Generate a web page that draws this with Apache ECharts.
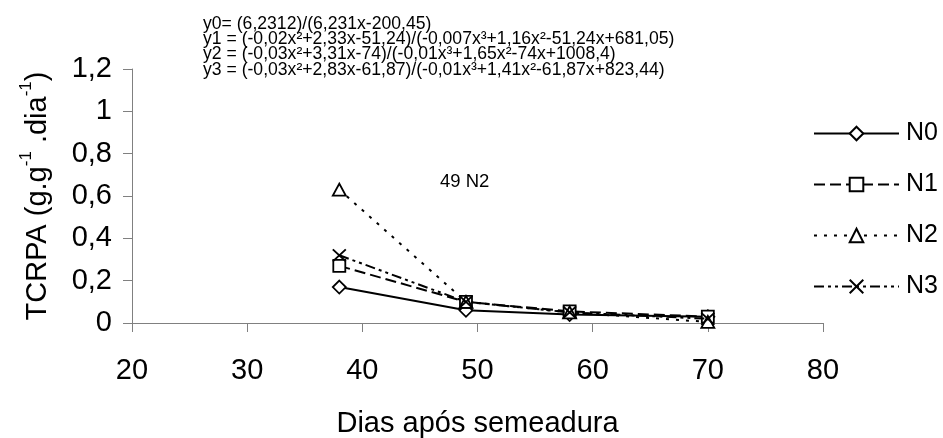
<!DOCTYPE html>
<html>
<head>
<meta charset="utf-8">
<script src="https://cdn.jsdelivr.net/npm/echarts@6/dist/echarts.min.js"></script>
<style>html,body{margin:0;padding:0;background:#fff}#c{width:943px;height:438px}</style>
</head>
<body>
<div id="c"></div>
<script>
// ---- data ----
const days = [38, 49, 58, 70];
const seriesNames = ['N0', 'N1', 'N2', 'N3'];
const N0 = [0.17, 0.06, 0.04, 0.03];
const N1 = [0.27, 0.10, 0.055, 0.03];
const N2 = [0.63, 0.10, 0.05, 0.005];
const N3 = [0.32, 0.10, 0.05, 0.02];
const xTicks = [20, 30, 40, 50, 60, 70, 80];
const yTicks = [0, 0.2, 0.4, 0.6, 0.8, 1, 1.2];
const equations = [
  'y0= (6,2312)/(6,231x-200,45)',
  'y1 = (-0,02x²+2,33x-51,24)/(-0,007x³+1,16x²-51,24x+681,05)',
  'y2 = (-0,03x²+3,31x-74)/(-0,01x³+1,65x²-74x+1008,4)',
  'y3 = (-0,03x²+2,83x-61,87)/(-0,01x³+1,41x²-61,87x+823,44)'
];
const annotation = '49 N2';

const FONT = '"Liberation Sans", Arial, sans-serif';
const values = [N0, N1, N2, N3];
const symbols = ['diamond', 'rect', 'triangle', 'path://M0,0L10,10M10,0L0,10'];
const symSizes = [[13, 13], [12, 12], [13, 12], [13, 12]];
const dashes = ['solid', [11, 5], [3, 7], [10, 4, 3, 4, 3, 4]];

const chart = echarts.init(document.getElementById('c'), null, {renderer: 'canvas'});
const series = seriesNames.map((n, i) => ({
  name: n,
  type: 'line',
  data: days.map((d, j) => [d, values[i][j]]),
  symbol: symbols[i],
  symbolSize: symSizes[i],
  showAllSymbol: true,
  itemStyle: {color: '#fff', borderColor: '#000', borderWidth: 1.8},
  lineStyle: {color: '#000', width: 2, type: dashes[i]},
  emphasis: {disabled: true},
  animation: false,
  z: 3 + i
}));

chart.setOption({
  animation: false,
  backgroundColor: '#fff',
  textStyle: {fontFamily: FONT},
  grid: {left: 132, right: 120, top: 69, bottom: 115, containLabel: false, outerBoundsMode: 'none'},
  xAxis: {
    type: 'value', min: 20, max: 80, interval: 10,
    axisLine: {show: true, onZero: false, lineStyle: {color: '#808080', width: 1}},
    axisTick: {show: true, length: 9, lineStyle: {color: '#808080'}},
    splitLine: {show: false},
    axisLabel: {color: '#000', fontSize: 29, fontFamily: FONT, margin: 33,
      formatter: v => xTicks.includes(v) ? String(v) : ''},
    name: 'Dias após semeadura', nameLocation: 'middle', nameGap: 86,
    nameTextStyle: {color: '#000', fontSize: 29, fontFamily: FONT}
  },
  yAxis: {
    type: 'value', min: 0, max: 1.2, interval: 0.2,
    axisLine: {show: true, lineStyle: {color: '#808080', width: 1}},
    axisTick: {show: true, length: 9, lineStyle: {color: '#808080'}},
    splitLine: {show: false},
    axisLabel: {color: '#000', fontSize: 29, fontFamily: FONT, margin: 20,
      formatter: v => {
        const t = yTicks.find(k => Math.abs(k - v) < 1e-9);
        return t === undefined ? '' : String(Math.round(t * 10) / 10).replace('.', ',');
      }},
    name: '{a|TCRPA (g.g}{s|-1}{a| .dia}{s|-1}{a|)}',
    nameLocation: 'middle', nameGap: 80, nameRotate: 90,
    nameTextStyle: {
      color: '#000', fontFamily: FONT,
      rich: {
        a: {fontSize: 29, fontFamily: FONT, color: '#000', lineHeight: 34, verticalAlign: 'bottom'},
        s: {fontSize: 17, fontFamily: FONT, color: '#000', lineHeight: 34, verticalAlign: 'top'}
      }
    }
  },
  legend: {
    orient: 'vertical', left: 808, top: 116,
    itemWidth: 85, itemHeight: 17, itemGap: 26,
    data: seriesNames,
    textStyle: {color: '#000', fontSize: 25, fontFamily: FONT, padding: [0, 0, 0, 2]},
    selectedMode: false
  },
  graphic: [
    {type: 'text', left: 203, top: 15, silent: true,
      style: {text: equations.join('\n'), font: '17.6px ' + FONT, fill: '#000', lineHeight: 15.3}},
    {type: 'text', left: 440, top: 172, silent: true,
      style: {text: annotation, font: '18.5px ' + FONT, fill: '#000'}}
  ],
  series: series
});
</script>
</body>
</html>
